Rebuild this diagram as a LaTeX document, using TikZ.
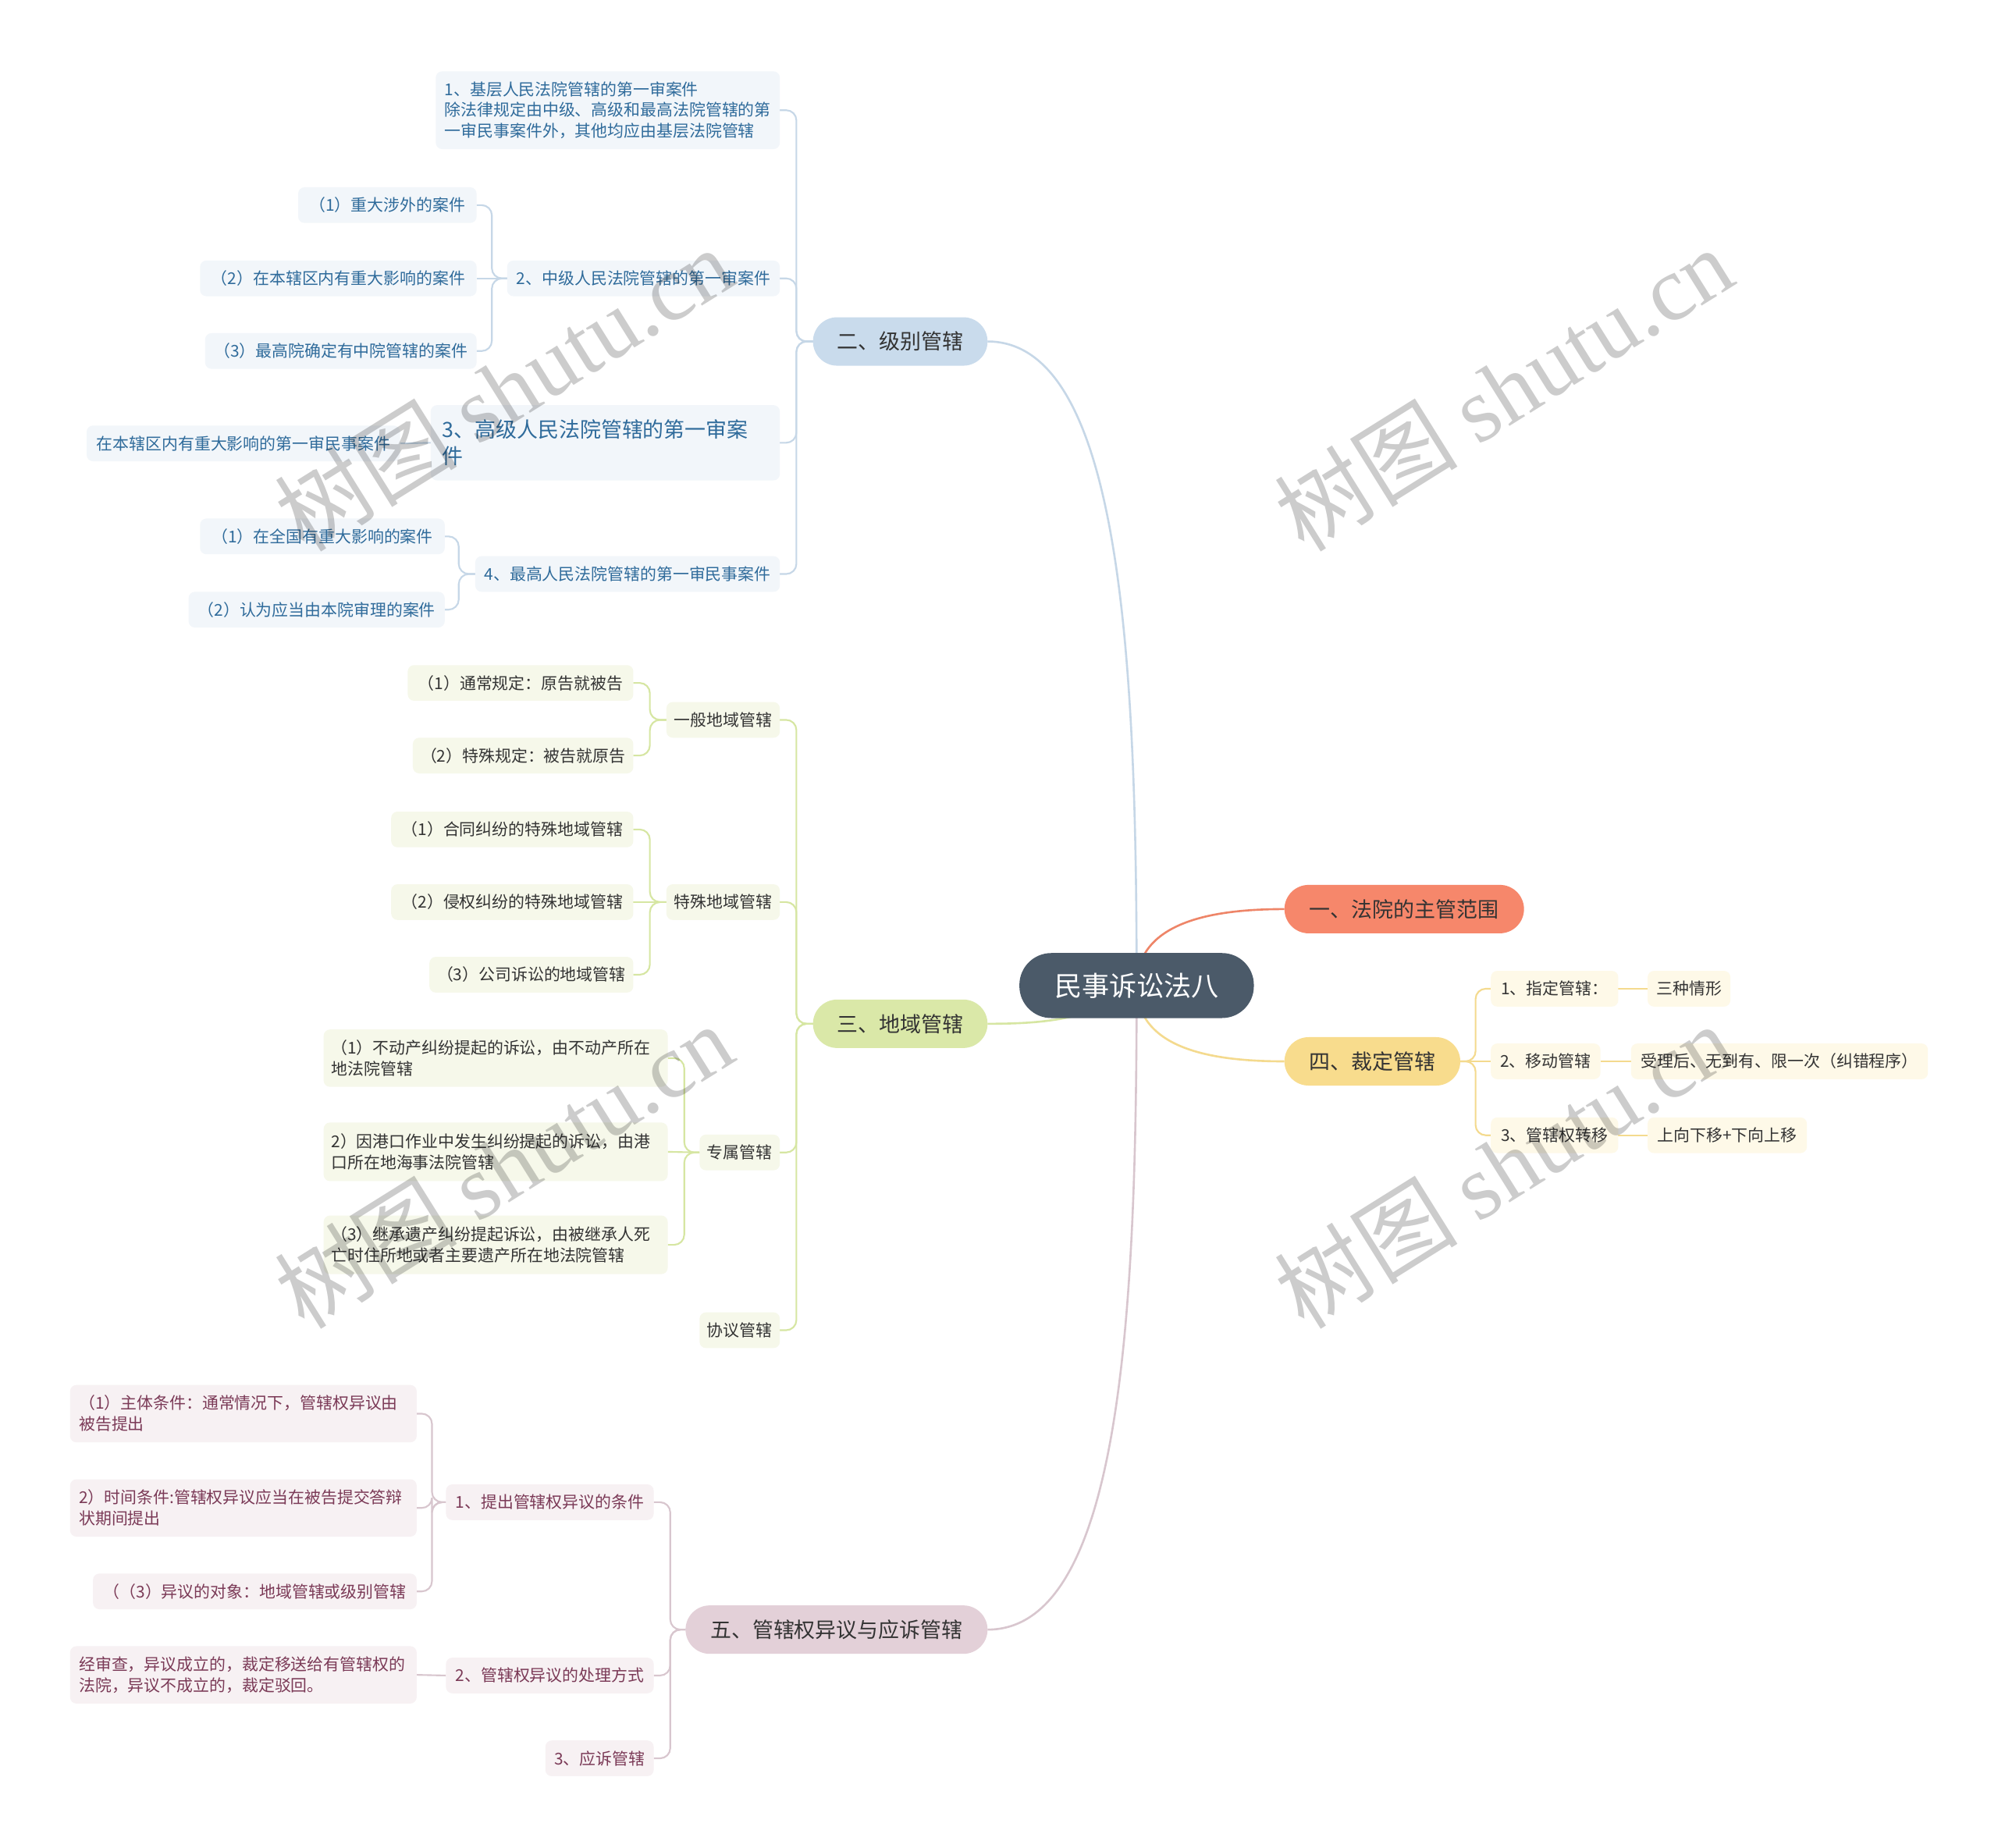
\documentclass[tikz,border=0pt]{standalone}
\usepackage{fontspec}
\setmainfont{Noto Sans CJK SC}
\newfontfamily\wmserif{Liberation Serif}
\usetikzlibrary{backgrounds}
\definecolor{rootfill}{HTML}{4B5A69}
\definecolor{nAfill}{HTML}{F6876B}
\definecolor{nBfill}{HTML}{C9DBEC}
\definecolor{nCfill}{HTML}{DAE8A8}
\definecolor{nDfill}{HTML}{F8DC8D}
\definecolor{nEfill}{HTML}{E3D0D8}
\definecolor{maintext}{HTML}{333333}
\definecolor{bfill}{HTML}{F2F6FA}
\definecolor{btext}{HTML}{2F6B9B}
\definecolor{gfill}{HTML}{F6F8EA}
\definecolor{gtext}{HTML}{333333}
\definecolor{yfill}{HTML}{FEF9E8}
\definecolor{ytext}{HTML}{333333}
\definecolor{pfill}{HTML}{F7F1F3}
\definecolor{ptext}{HTML}{7B3A57}
\definecolor{lblue}{HTML}{C6D7E7}
\definecolor{lgreen}{HTML}{D6E6A2}
\definecolor{lyellow}{HTML}{F4DA8E}
\definecolor{lpink}{HTML}{D8C6CE}
\definecolor{lorange}{HTML}{EE8568}
\tikzset{
  every node/.style={inner sep=0pt, outer sep=0pt},
  subnode/.style={rounded corners=5pt, minimum height=28pt, font=\fontsize{12.8}{16.5}\selectfont, align=left},
  bnode/.style={subnode, fill=bfill, text=btext},
  gnode/.style={subnode, fill=gfill, text=gtext},
  ynode/.style={subnode, fill=yfill, text=ytext},
  pnode/.style={subnode, fill=pfill, text=ptext},
  mainnode/.style={rounded corners=19pt, minimum height=38pt, font=\fontsize{16.5}{20}\selectfont, text=maintext},
  rootnode/.style={rounded corners=25pt, minimum height=51pt, fill=rootfill, text=white, font=\fontsize{21.5}{26}\selectfont},
  mainconn/.style={line width=1.6pt},
  conn/.style={line width=1.3pt, rounded corners=8pt},
  wmark/.style={text=black, text opacity=0.2, rotate=32, font=\fontsize{72}{76}\selectfont}
}
\begin{document}
\begin{tikzpicture}[x=1pt,y=-1pt]
\useasboundingbox (0,0) rectangle (1568,1449.8);

% root and main branches
\node[rootnode, minimum width=184pt] (root) at (892,773.5) {民事诉讼法八};
\node[mainnode, fill=nAfill, minimum width=188pt] (n1) at (1102,713.5) {一、法院的主管范围};
\node[mainnode, fill=nDfill, minimum width=138pt] (n4) at (1077,833) {四、裁定管辖};
\node[mainnode, fill=nBfill, minimum width=137pt] (n2) at (706.5,268) {二、级别管辖};
\node[mainnode, fill=nCfill, minimum width=137pt] (n3) at (706.5,803.5) {三、地域管辖};
\node[mainnode, fill=nEfill, minimum width=237pt] (n5) at (656.5,1279) {五、管辖权异议与应诉管辖};

% blue branch
\node[bnode, minimum width=270pt, minimum height=61pt] (b1) at (477,86.5) {1、基层人民法院管辖的第一审案件\\除法律规定由中级、高级和最高法院管辖的第\\一审民事案件外，其他均应由基层法院管辖};
\node[bnode, minimum width=214pt] (b2) at (505,218.5) {2、中级人民法院管辖的第一审案件};
\node[bnode, minimum width=140pt] (b2a) at (304,161) {（1）重大涉外的案件};
\node[bnode, minimum width=217pt] (b2b) at (265.5,218.5) {（2）在本辖区内有重大影响的案件};
\node[bnode, minimum width=213pt] (b2c) at (267.5,275.5) {（3）最高院确定有中院管辖的案件};
\node[bnode, font=\fontsize{16.5}{21}\selectfont, text width=256pt, minimum width=274pt, minimum height=59pt] (b3) at (475,347.5) {3、高级人民法院管辖的第一审案\\件};
\node[bnode, minimum width=246pt] (b3a) at (191,348) {在本辖区内有重大影响的第一审民事案件};
\node[bnode, minimum width=239pt] (b4) at (492.5,450.5) {4、最高人民法院管辖的第一审民事案件};
\node[bnode, minimum width=192pt] (b4a) at (253,421) {（1）在全国有重大影响的案件};
\node[bnode, minimum width=201pt] (b4b) at (248.5,478.5) {（2）认为应当由本院审理的案件};

% green branch
\node[gnode, minimum width=89pt] (g1) at (567.5,565) {一般地域管辖};
\node[gnode, minimum width=177pt] (g1a) at (408.5,536) {（1）通常规定：原告就被告};
\node[gnode, minimum width=173pt] (g1b) at (410.5,593) {（2）特殊规定：被告就原告};
\node[gnode, minimum width=89pt] (g2) at (567.5,708) {特殊地域管辖};
\node[gnode, minimum width=190pt] (g2a) at (402,651) {（1）合同纠纷的特殊地域管辖};
\node[gnode, minimum width=190pt] (g2b) at (402,708) {（2）侵权纠纷的特殊地域管辖};
\node[gnode, minimum width=160pt] (g2c) at (417,765) {（3）公司诉讼的地域管辖};
\node[gnode, minimum width=63pt] (g3) at (580.5,904.5) {专属管辖};
\node[gnode, text width=258pt, minimum width=270pt, minimum height=45pt] (g3a) at (389,830.5) {（1）不动产纠纷提起的诉讼，由不动产所在\\地法院管辖};
\node[gnode, text width=258pt, minimum width=270pt, minimum height=46pt] (g3b) at (389,904) {2）因港口作业中发生纠纷提起的诉讼，由港\\口所在地海事法院管辖};
\node[gnode, text width=258pt, minimum width=270pt, minimum height=46pt] (g3c) at (389,977) {（3）继承遗产纠纷提起诉讼，由被继承人死\\亡时住所地或者主要遗产所在地法院管辖};
\node[gnode, minimum width=63pt] (g4) at (580.5,1044) {协议管辖};

% yellow branch
\node[ynode, minimum width=100pt] (y1) at (1220,776) {1、指定管辖：};
\node[ynode, minimum width=65pt] (y1a) at (1325.5,776) {三种情形};
\node[ynode, minimum width=86pt] (y2) at (1213,833) {2、移动管辖};
\node[ynode, minimum width=233pt] (y2a) at (1396.5,833) {受理后、无到有、限一次（纠错程序）};
\node[ynode, minimum width=100pt] (y3) at (1220,891) {3、管辖权转移};
\node[ynode, minimum width=125pt] (y3a) at (1355.5,891) {上向下移+下向上移};

% pink branch
\node[pnode, minimum width=163pt] (p1) at (431.5,1179) {1、提出管辖权异议的条件};
\node[pnode, text width=258pt, minimum width=272pt, minimum height=45pt] (p1a) at (191,1109.5) {（1）主体条件：通常情况下，管辖权异议由\\被告提出};
\node[pnode, text width=258pt, minimum width=272pt, minimum height=45pt] (p1b) at (191,1183.5) {2）时间条件:管辖权异议应当在被告提交答辩\\状期间提出};
\node[pnode, minimum width=254pt] (p1c) at (200,1249) {（（3）异议的对象：地域管辖或级别管辖};
\node[pnode, minimum width=163pt] (p2) at (431.5,1315) {2、管辖权异议的处理方式};
\node[pnode, text width=258pt, minimum width=272pt, minimum height=45pt] (p2a) at (191,1314.5) {经审查，异议成立的，裁定移送给有管辖权的\\法院，异议不成立的，裁定驳回。};
\node[pnode, minimum width=85pt] (p3) at (470.5,1380) {3、应诉管辖};

\begin{pgfonlayer}{background}
\fill[white] (0,0) rectangle (1568,1449.8);
% root curves
\draw[mainconn, lblue] (root.center) .. controls (892,520) and (880,268) .. (n2.east);
\draw[mainconn, lpink] (root.center) .. controls (892,1030) and (880,1279) .. (n5.east);
\draw[mainconn, lgreen] (root.center) .. controls (860,800) and (820,803.5) .. (n3.east);
\draw[mainconn, lorange] (root.center) .. controls (892,724) and (950,713.5) .. (n1.west);
\draw[mainconn, lyellow] (root.center) .. controls (892,823) and (950,833) .. (n4.west);

% blue
\foreach \c in {b1,b2,b3,b4} \draw[conn, lblue] (n2.west) -- ++(-13,0) |- (\c.east);
\foreach \c in {b2a,b2c} \draw[conn, lblue] (b2.west) -- ++(-12,0) |- (\c.east);
\draw[conn, lblue] (b2.west) -- (b2b.east);
\draw[conn, lblue] (b3.west) -- (b3a.east);
\foreach \c in {b4a,b4b} \draw[conn, lblue] (b4.west) -- ++(-13,0) |- (\c.east);

% green
\foreach \c in {g1,g2,g3,g4} \draw[conn, lgreen] (n3.west) -- ++(-13,0) |- (\c.east);
\foreach \c in {g1a,g1b} \draw[conn, lgreen] (g1.west) -- ++(-13,0) |- (\c.east);
\foreach \c in {g2a,g2c} \draw[conn, lgreen] (g2.west) -- ++(-13,0) |- (\c.east);
\draw[conn, lgreen] (g2.west) -- (g2b.east);
\foreach \c in {g3a,g3c} \draw[conn, lgreen] (g3.west) -- ++(-12,0) |- (\c.east);
\draw[conn, lgreen] (g3.west) -- (g3b.east);

% yellow
\foreach \c in {y1,y3} \draw[conn, lyellow] (n4.east) -- ++(12,0) |- (\c.west);
\draw[conn, lyellow] (n4.east) -- (y2.west);
\draw[conn, lyellow] (y1.east) -- (y1a.west);
\draw[conn, lyellow] (y2.east) -- (y2a.west);
\draw[conn, lyellow] (y3.east) -- (y3a.west);

% pink
\foreach \c in {p1,p2,p3} \draw[conn, lpink] (n5.west) -- ++(-12,0) |- (\c.east);
\foreach \c in {p1a,p1b,p1c} \draw[conn, lpink] (p1.west) -- ++(-11,0) |- (\c.east);
\draw[conn, lpink] (p2.west) -- (p2a.east);
\end{pgfonlayer}

% watermarks
\node[wmark] (wm1) at (395,305) {树图 {\wmserif shutu.cn}};
\node[wmark] (wm2) at (1180,305) {树图 {\wmserif shutu.cn}};
\node[wmark] (wm3) at (395,915) {树图 {\wmserif shutu.cn}};
\node[wmark] (wm4) at (1180,915) {树图 {\wmserif shutu.cn}};
\end{tikzpicture}
\end{document}
